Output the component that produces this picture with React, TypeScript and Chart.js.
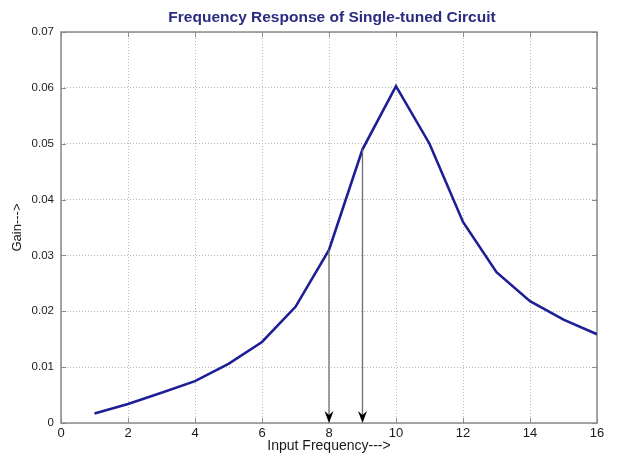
import React, { useEffect, useRef } from "react";
import { Chart, registerables } from "chart.js";

Chart.register(...registerables);

const freq = [1, 2, 3, 4, 5, 6, 7, 8, 9, 10, 11, 12, 13, 14, 15, 16];
const gain = [0.0017, 0.0034, 0.0054, 0.0075, 0.0106, 0.0145, 0.0208, 0.031, 0.049, 0.0603, 0.050, 0.036, 0.027, 0.0218, 0.0185, 0.0159];
const arrowX = [8, 9];
const arrowTop = [0.031, 0.049];
const titleText = "Frequency Response of Single-tuned Circuit";
const xTitle = "Input Frequency--->";
const yTitle = "Gain--->";

const FONT = "Arial, 'Liberation Sans', sans-serif";

const framePlugin = {
  id: "frame",
  beforeDatasetsDraw(chart: any) {
    const { ctx, chartArea: a, scales } = chart;
    ctx.save();
    ctx.strokeStyle = "#8a8a8a";
    ctx.lineWidth = 1;
    const xs = scales.x, ys = scales.y;
    ctx.beginPath();
    xs.ticks.forEach((t: any) => {
      const px = Math.round(xs.getPixelForValue(t.value)) + 0.5;
      ctx.moveTo(px, a.bottom); ctx.lineTo(px, a.bottom - 5);
      ctx.moveTo(px, a.top); ctx.lineTo(px, a.top + 5);
    });
    ys.ticks.forEach((t: any) => {
      const py = Math.round(ys.getPixelForValue(t.value)) + 0.5;
      ctx.moveTo(a.left, py); ctx.lineTo(a.left + 5, py);
      ctx.moveTo(a.right, py); ctx.lineTo(a.right - 5, py);
    });
    ctx.stroke();
    ctx.lineWidth = 1.5;
    ctx.strokeRect(a.left, a.top, a.right - a.left, a.bottom - a.top);
    ctx.restore();
  },
  afterDatasetsDraw(chart: any) {
    const { ctx, scales } = chart;
    const xs = scales.x, ys = scales.y;
    ctx.save();
    for (let i = 0; i < arrowX.length; i++) {
      const px = xs.getPixelForValue(arrowX[i]);
      const top = ys.getPixelForValue(arrowTop[i]);
      const bot = ys.getPixelForValue(0);
      ctx.strokeStyle = "#6e6e6e";
      ctx.lineWidth = 1.3;
      ctx.beginPath();
      ctx.moveTo(px, top);
      ctx.lineTo(px, bot - 4);
      ctx.stroke();
      ctx.fillStyle = "#000000";
      ctx.beginPath();
      ctx.moveTo(px, bot);
      ctx.lineTo(px - 4.5, bot - 12);
      ctx.lineTo(px, bot - 8);
      ctx.lineTo(px + 4.5, bot - 12);
      ctx.closePath();
      ctx.fill();
    }
    ctx.restore();
  },
  afterDraw(chart: any) {
    const { ctx, chartArea: a } = chart;
    ctx.save();
    ctx.fillStyle = "#2b2b80";
    ctx.font = "bold 15.5px " + FONT;
    ctx.textAlign = "center";
    ctx.textBaseline = "middle";
    ctx.fillText(titleText, (a.left + a.right) / 2 + 3, 18);
    ctx.restore();
  },
};

export default function App() {
  const ref = useRef<HTMLCanvasElement>(null);
  useEffect(() => {
    if (!ref.current) return;
    const chart = new Chart(ref.current, {
      type: "line",
      data: {
        datasets: [
          {
            data: freq.map((f, i) => ({ x: f, y: gain[i] })),
            borderColor: "#1e1e96",
            borderWidth: 2.6,
            pointRadius: 0,
            tension: 0,
            fill: false,
          },
        ],
      },
      options: {
        animation: false,
        responsive: false,
        maintainAspectRatio: false,
        layout: { padding: { left: 0, right: 22, top: 32, bottom: 0 } },
        plugins: { legend: { display: false }, title: { display: false }, tooltip: { enabled: false } },
        scales: {
          x: {
            type: "linear",
            min: 0,
            max: 16,
            afterFit(s: any) { s.height = 32; },
            border: { display: false, dash: [1, 2] },
            grid: { color: "#b8b8b8", drawTicks: false, lineWidth: 1 },
            ticks: { stepSize: 2, padding: 3, color: "#1a1a1a", font: { family: FONT, size: 13 }, maxRotation: 0, callback: (v: any) => String(v) },
            title: { display: true, text: xTitle, color: "#1a1a1a", font: { family: FONT, size: 14 }, padding: { top: 0, bottom: 0 } },
          },
          y: {
            type: "linear",
            min: 0,
            max: 0.07,
            afterFit(s: any) { s.width = 61; },
            border: { display: false, dash: [1, 2] },
            grid: { color: "#b8b8b8", drawTicks: false, lineWidth: 1 },
            ticks: { stepSize: 0.01, padding: 7, color: "#1a1a1a", font: { family: FONT, size: 11.5 }, callback: (v: any) => (Number(v) === 0 ? "0" : Number(v).toFixed(2)) },
            title: { display: true, text: yTitle, color: "#1a1a1a", font: { family: FONT, size: 13 }, padding: { top: 10, bottom: 0 } },
          },
        },
      },
      plugins: [framePlugin],
    } as any);
    return () => chart.destroy();
  }, []);
  return (
    <div style={{ position: "fixed", left: 0, top: 0, width: 619, height: 455, background: "#fff" }}>
      <canvas ref={ref} width={619} height={455} style={{ width: 619, height: 455 }} />
    </div>
  );
}
